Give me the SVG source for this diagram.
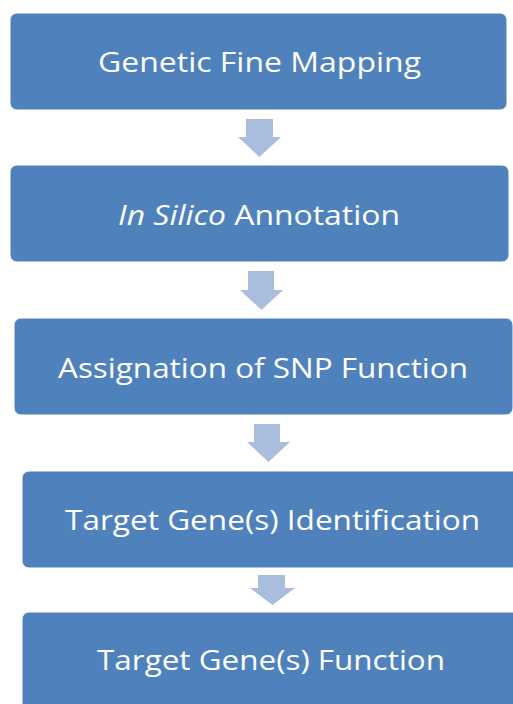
<svg xmlns="http://www.w3.org/2000/svg" width="513" height="704" viewBox="0 0 513 704">
<style>
.box{fill:#4F81BD;stroke:#FFFFFF;stroke-width:1}
.lbl{font-family:"Open Sans","Noto Sans","Liberation Sans",sans-serif;font-size:28px;fill:#FFFFFF;text-anchor:middle}
.arr{fill:#A9BEDD}
</style>
<rect width="513" height="704" fill="#FFFFFF"/>
<g id="connectors">
<polygon class="arr" points="246,119 273,119 273,137 281,137 259.5,157 238,137 246,137"/>
<polygon class="arr" points="248,271 274,271 274,290 283,290 261.5,310 240,290 248,290"/>
<polygon class="arr" points="254,424 280,424 280,442 290,442 268.5,462 247,442 254,442"/>
<polygon class="arr" points="258,575 285,575 285,588 295,588 272.5,605 250,588 258,588"/>
</g>
<g id="node1">
<rect class="box" x="10" y="13" width="497" height="97" rx="7"/>
<text class="lbl" x="259.5" y="72" textLength="323" lengthAdjust="spacingAndGlyphs">Genetic Fine Mapping</text>
</g>
<g id="node2">
<rect class="box" x="10" y="165" width="499" height="97" rx="7"/>
<text class="lbl" x="259" y="225" textLength="282" lengthAdjust="spacingAndGlyphs"><tspan font-style="italic">In Silico</tspan> Annotation</text>
</g>
<g id="node3">
<rect class="box" x="14" y="318" width="499" height="97" rx="7"/>
<text class="lbl" x="263" y="378" textLength="410" lengthAdjust="spacingAndGlyphs">Assignation of SNP Function</text>
</g>
<g id="node4">
<rect class="box" x="22" y="471" width="500" height="97" rx="7"/>
<text class="lbl" x="272.5" y="530" textLength="415" lengthAdjust="spacingAndGlyphs">Target Gene(s) Identification</text>
</g>
<g id="node5">
<rect class="box" x="22" y="612" width="500" height="100" rx="7"/>
<text class="lbl" x="271" y="670" textLength="348" lengthAdjust="spacingAndGlyphs">Target Gene(s) Function</text>
</g>
</svg>
